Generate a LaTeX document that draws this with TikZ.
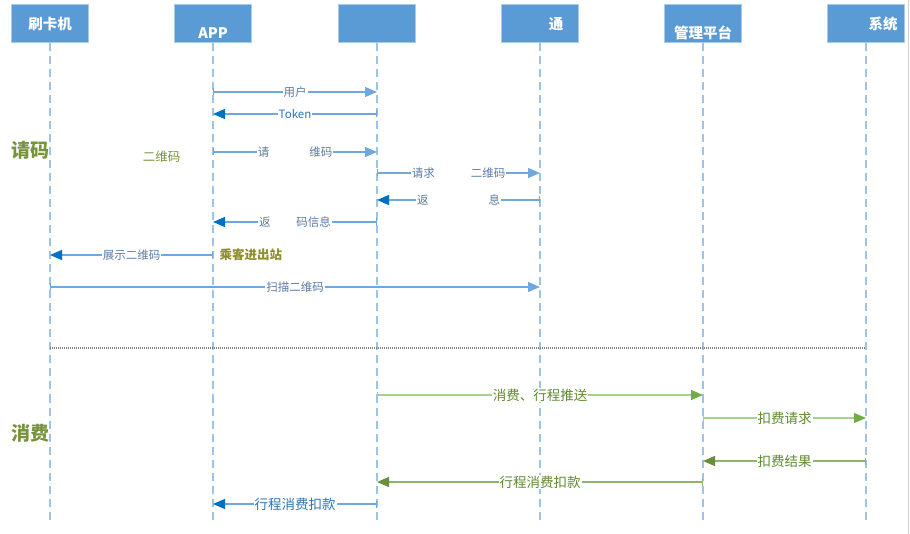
\documentclass[tikz,border=0pt]{standalone}
\usepackage{fontspec}
\newfontfamily\cjk{Noto Sans CJK SC}
\usetikzlibrary{arrows.meta,positioning,calc}
\definecolor{HeadBlue}{HTML}{5B9BD5}
\definecolor{HeadEdge}{HTML}{A9CBEA}
\definecolor{LifeBlue}{HTML}{9DC3E6}
\definecolor{MsgBlue}{HTML}{6FA8DC}
\definecolor{TipBlue}{HTML}{0070C0}
\definecolor{TextBlue}{HTML}{5B7BA3}
\definecolor{TokenBlue}{HTML}{2E75B6}
\definecolor{MsgGreen}{HTML}{A9D18E}
\definecolor{BackGreen}{HTML}{8FB46A}
\definecolor{TipGreen}{HTML}{70AD47}
\definecolor{TipGreenDark}{HTML}{6B8E3A}
\definecolor{TextGreen}{HTML}{5E8A2E}
\definecolor{PhaseGreen}{HTML}{77933C}
\definecolor{NoteOlive}{HTML}{8E8E2A}

\begin{document}
\begin{tikzpicture}[x=1pt,y=-1pt,
  head/.style={fill=HeadBlue,draw=HeadEdge,line width=1pt,
    minimum width=77pt,minimum height=38pt,inner sep=0pt},
  headtext/.style={text=white,inner sep=0pt,
    font=\cjk\bfseries\fontsize{14.5}{14.5}\selectfont},
  life/.style={LifeBlue,line width=1.2pt,dash pattern=on 8pt off 5pt},
  fwd/.style={MsgBlue,line width=1.2pt,
    {Bar[width=7pt,line width=1pt]}-{Triangle[length=12pt,width=10pt]}},
  back/.style={MsgBlue,line width=1.2pt,
    {Bar[width=7pt,line width=1pt]}-{Triangle[length=12pt,width=10pt,color=TipBlue]}},
  gfwd/.style={MsgGreen,line width=1.2pt,
    {Bar[width=7pt,line width=1pt]}-{Triangle[length=12pt,width=10pt,color=TipGreen]}},
  gback/.style={BackGreen,line width=1.2pt,
    {Bar[width=7pt,line width=1pt]}-{Triangle[length=12pt,width=10pt,color=TipGreenDark]}},
  lbl/.style={midway,fill=white,inner sep=1pt,text=TextBlue,
    font=\cjk\fontsize{11.5}{11.5}\selectfont},
  glbl/.style={midway,fill=white,inner sep=1pt,text=TextGreen,
    font=\cjk\fontsize{13.5}{13.5}\selectfont},
  phase/.style={text=PhaseGreen,font=\cjk\bfseries\fontsize{19}{19}\selectfont}]
  \useasboundingbox (0,0) rectangle (910,534);
  \draw[gray!35,line width=1.5pt] (908.5,0) -- (908.5,534);

  % participants
  \node[head] (card) at (50,24) {};
  \node[head] (app) at (213,24) {};
  \node[head] (cloud) at (377,24) {};
  \node[head] (tong) at (540,24) {};
  \node[head] (plat) at (703,24) {};
  \node[head] (sys) at (866,24) {};
  \node[headtext] (card-t) at (card) {刷卡机};
  \node[headtext] (app-t) at (213,33) {APP};
  \node[headtext] (tong-t) at (556,24) {通};
  \node[headtext] (plat-t) at (703,33) {管理平台};
  \node[headtext] (sys-t) at (883,24) {系统};

  \foreach \p in {card,app,cloud,tong,plat,sys}
    \draw[life] (\p.south) -- (\p |- 0,522);

  \draw[gray,line width=1.5pt,dash pattern=on 1pt off 1pt]
    (card |- 0,348) -- (sys |- 0,348);

  % phases
  \node[phase] (ph1) at (30,150) {请码};
  \node[phase] (ph2) at (30,433) {消费};

  % request code
  \draw[fwd] (app |- 0,92) -- (cloud |- 0,92) node[lbl] {用户};
  \draw[back] (cloud |- 0,114) -- (app |- 0,114) node[lbl,text=TokenBlue] {Token};
  \node[text=PhaseGreen,font=\cjk\fontsize{12.5}{12.5}\selectfont,anchor=east]
    (qr-note) at (184,157) {二维码};
  \draw[fwd] (app |- 0,152) -- (cloud |- 0,152) node[lbl] {请\hspace{40pt}维码};
  \draw[fwd] (cloud |- 0,173) -- (tong |- 0,173) node[lbl] {请求\hspace{36pt}二维码};
  \draw[back] (tong |- 0,200) -- (cloud |- 0,200) node[lbl] {返\hspace{60pt}息};
  \draw[back] (cloud |- 0,222) -- (app |- 0,222) node[lbl] {返\hspace{26pt}码信息};
  \draw[back] (app |- 0,255) -- (card |- 0,255) node[lbl] {展示二维码};
  \node[text=NoteOlive,font=\cjk\bfseries\fontsize{12.5}{12.5}\selectfont,anchor=west]
    (pass) at (216,255) {乘客进出站};
  \draw[fwd] (card |- 0,287) -- (tong |- 0,287) node[lbl] {扫描二维码};

  % consumption
  \draw[gfwd] (cloud |- 0,395) -- (plat |- 0,395) node[glbl] {消费、行程推送};
  \draw[gfwd] (plat |- 0,418) -- (sys |- 0,418) node[glbl] {扣费请求};
  \draw[gback] (sys |- 0,461) -- (plat |- 0,461) node[glbl] {扣费结果};
  \draw[gback] (plat |- 0,482) -- (cloud |- 0,482) node[glbl] {行程消费扣款};
  \draw[back] (cloud |- 0,504) -- (app |- 0,504) node[glbl,text=TokenBlue] {行程消费扣款};
\end{tikzpicture}
\end{document}
